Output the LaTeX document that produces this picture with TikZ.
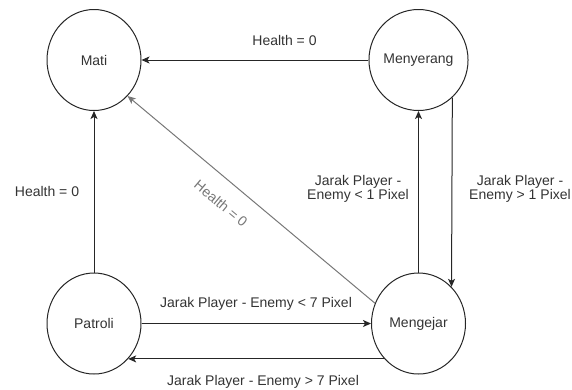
\documentclass[tikz,border=0pt]{standalone}
\usepackage{fontspec}
\setmainfont{Liberation Sans}
\usetikzlibrary{arrows.meta,shapes.geometric}
\definecolor{txt}{HTML}{333333}
\definecolor{soft}{HTML}{777777}
\begin{document}
\begin{tikzpicture}[x=1pt,y=-1pt,
  state/.style={draw=black!85,line width=1pt,ellipse,minimum width=94pt,minimum height=101pt,inner sep=0pt,text=txt,font=\fontsize{14}{16.5}\selectfont},
  edge/.style={draw=black!85,line width=1pt,-{Stealth[length=8pt,width=7pt,inset=2pt]}},
  lbl/.style={text=txt,font=\fontsize{14}{16.5}\selectfont,align=center,inner sep=0pt}]
\useasboundingbox (0,0) rectangle (572,389);
% states
\node[state] (Mati) at (94,60) {Mati};
\node[state] (Menyerang) at (418.5,60) {Menyerang};
\node[state] (Patroli) at (94,323.5) {Patroli};
\node[state] (Mengejar) at (418.5,323.5) {Mengejar};
% transitions
\draw[edge] (Menyerang.west) -- (Mati.east);
\draw[edge] (Patroli.north) -- (Mati.south);
\draw[edge,draw=soft] (Mengejar.155.8) -- (Mati.-47.4);
\draw[edge] (Patroli.east) -- (Mengejar.west);
\draw[edge] (Mengejar.226.75) -- (Patroli.-46.75);
\draw[edge] (Mengejar.north) -- (Menyerang.south);
\draw[edge] (Menyerang.-48.3) -- (Mengejar.48.3);
% labels
\node[lbl] (l1) at (284.5,40) {Health = 0};
\node[lbl] (l2) at (47,191) {Health = 0};
\node[lbl,text=soft,rotate=-40] (l3) at (221,203.5) {Health = 0};
\node[lbl] (l4) at (256,304) {Jarak Player - Enemy < 7 Pixel};
\node[lbl] (l5) at (263,382) {Jarak Player - Enemy > 7 Pixel};
\node[lbl,font=\fontsize{14}{14.5}\selectfont] (l6) at (358,189) {Jarak Player -\\Enemy < 1 Pixel};
\node[lbl,font=\fontsize{14}{14.5}\selectfont] (l7) at (520,189) {Jarak Player -\\Enemy > 1 Pixel};
\end{tikzpicture}
\end{document}
